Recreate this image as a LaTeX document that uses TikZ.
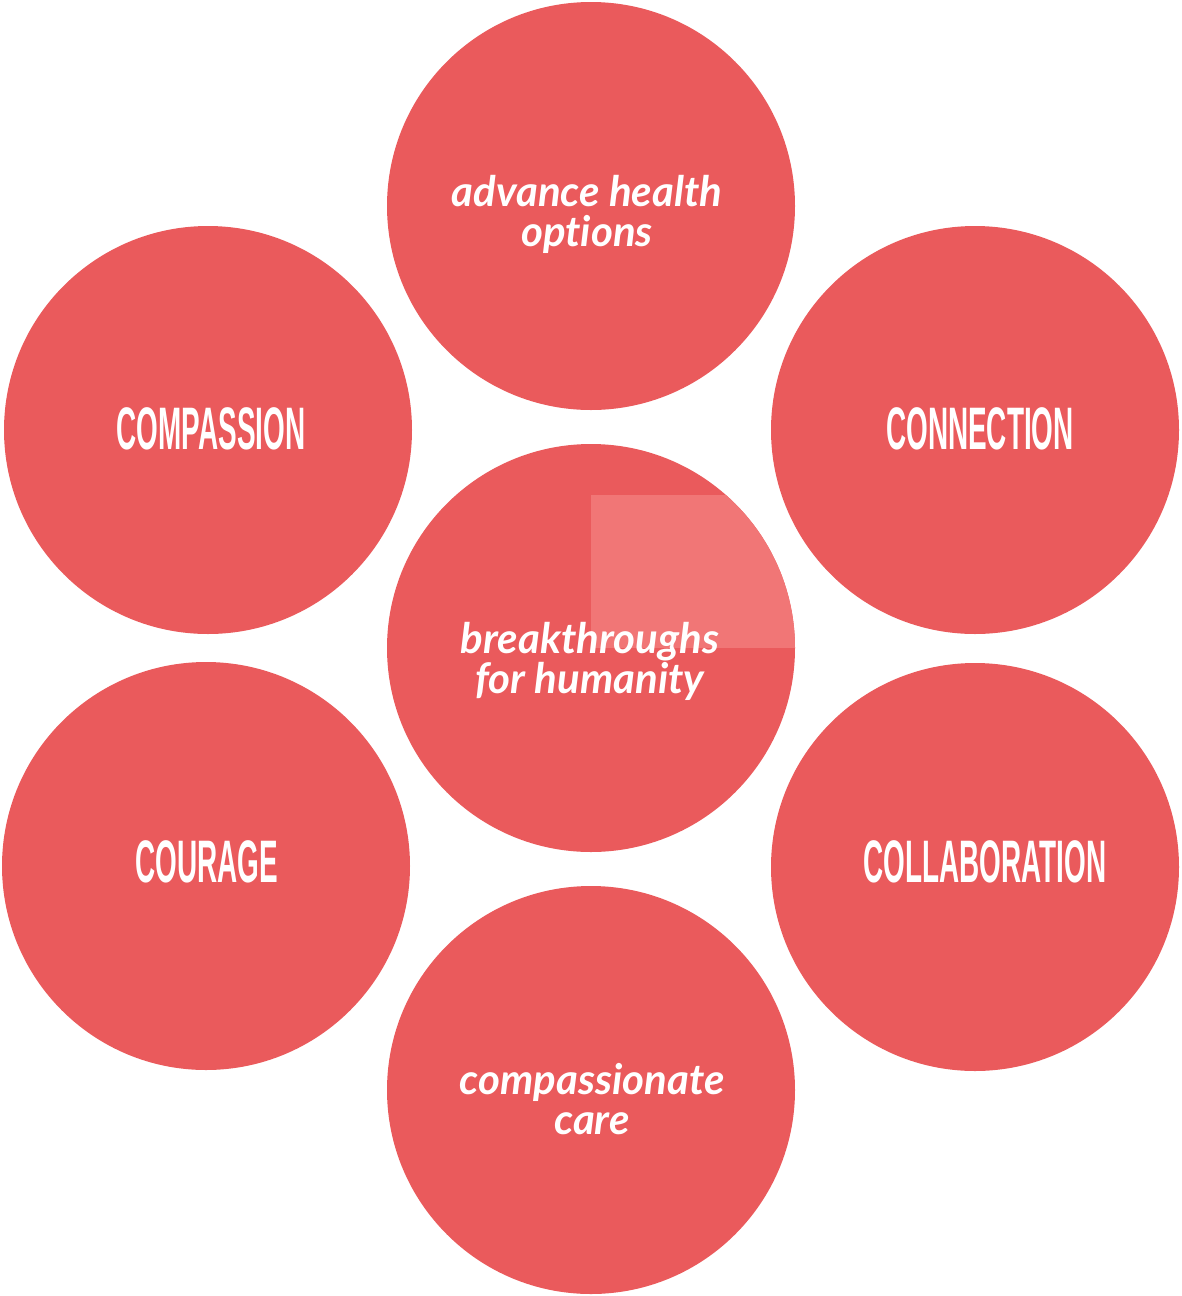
\documentclass[tikz,border=0pt]{standalone}
\usepackage{fontspec}
\newfontfamily\capsfont[FakeStretch=0.465]{Liberation Sans}
\newfontfamily\cursfont[Ligatures={NoCommon}]{Lato}
\definecolor{disk}{RGB}{234,90,92}
\definecolor{disklight}{RGB}{241,118,118}
\tikzset{
  disc/.style={circle, fill=disk, minimum size=408pt, inner sep=0pt},
  capslabel/.style={text=white, font=\capsfont\bfseries\fontsize{60}{60}\selectfont},
  curslabel/.style={text=white, align=center, font=\cursfont\bfseries\itshape\fontsize{42}{40}\selectfont}
}
\begin{document}
\begin{tikzpicture}[x=1pt,y=-1pt]
\useasboundingbox (0,0) rectangle (1181,1296);
\node[disc] (top) at (591,206) {};
\node[disc] (ul) at (208,430) {};
\node[disc] (ur) at (975,430) {};
\node[disc] (mid) at (591,648) {};
\node[disc] (ll) at (206,866) {};
\node[disc] (lr) at (975,867) {};
\node[disc] (bot) at (591,1090) {};
\begin{scope}
  \clip (591,648) circle (204);
  \fill[disklight] (591,495) rectangle (800,648);
\end{scope}
\node[curslabel] (toptext) at (587,214) {advance health\\options};
\node[curslabel] (midtext) at (590,661) {breakthroughs\\for humanity};
\node[curslabel] (bottext) at (592,1099) {compassionate\\care};
\node[capslabel] (ultext) at (211,429) {COMPASSION};
\node[capslabel] (urtext) at (980,429) {CONNECTION};
\node[capslabel] (lltext) at (207,862) {COURAGE};
\node[capslabel] (lrtext) at (985,862) {COLLABORATION};
\end{tikzpicture}
\end{document}
